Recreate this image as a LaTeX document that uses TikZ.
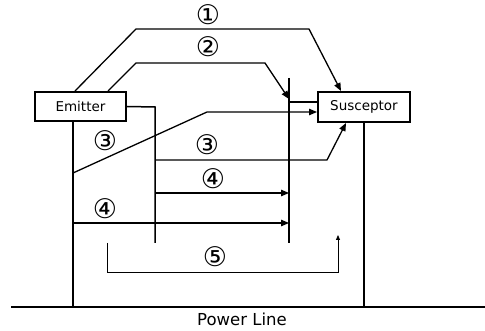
\documentclass[tikz,border=0pt]{standalone}
\usepackage{fontspec}
\setmainfont{DejaVu Sans}
\usetikzlibrary{positioning,arrows.meta,calc}

\begin{document}
\begin{tikzpicture}[x=1pt, y=-1pt,
  lbl/.style={font=\fontsize{27}{29}\selectfont, inner sep=0pt},
  boxv/.style={rectangle, draw=black, line width=2pt, fill=white, font=\fontsize{13.5}{16}\selectfont},
  wire/.style={draw=black, line width=1.5pt, line join=miter},
  flow/.style={draw=black, line width=1.3pt, -{Triangle[length=8pt,width=6.5pt]}},
  thinflow/.style={draw=black, line width=0.8pt, -{Triangle[length=5pt,width=4pt]}}
]
\useasboundingbox (0,0) rectangle (485,331);

\node[boxv, minimum width=91pt, minimum height=29pt] (emit) at (80.5,106.5) {Emitter};
\node[boxv, minimum width=92pt, minimum height=30pt] (susc) at (364,107) {Susceptor};
\coordinate (plL) at (11,307);
\coordinate (plR) at (485,307);
\coordinate (eg) at (73,307);
\coordinate (w1t) at (155,107);
\coordinate (w1b) at (155,243);
\coordinate (w2t) at (289,78);
\coordinate (w2b) at (289,243);
\coordinate (a1) at (73,173);
\coordinate (a2) at (155,160);
\coordinate (a3) at (155,193);
\coordinate (a4) at (73,223);
\coordinate (t2) at (289,99);
\coordinate (s2) at (289,102);
\coordinate (t3) at (289,193);
\coordinate (t4) at (289,223);
\draw[wire] (plL) -- (plR);
\draw[wire] (emit.south -| eg) -- (eg);
\draw[wire] (emit.east) -- (w1t) -- (w1b);
\draw[wire] (w2t) -- (w2b);
\draw[wire] (susc.south) -- (susc.south |- plR);
\draw[flow] ([xshift=-5.5pt]emit.north) -- (136,29) -- (309,29) -- ([xshift=-23pt]susc.north);
\draw[flow] ([xshift=27.5pt]emit.north) -- (136,63) -- (265,63) -- (t2);
\draw[wire, line width=1.3pt] (s2) -- ([yshift=5pt]susc.west);
\draw[flow] (a1) -- (207,112) -- ([yshift=-5pt]susc.west);
\draw[flow] (a2) -- (327,160) -- ([xshift=-18pt]susc.south);
\draw[flow] (a3) -- (t3);
\draw[flow] (a4) -- (t4);
\draw[thinflow] (107,243) -- (107,272) -- (338,272) -- (338,235);
\node[lbl] (n1) at (208,15) {①};
\node[lbl] (n2) at (208,47) {②};
\node[lbl] (n3a) at (105,141) {③};
\node[lbl] (n3b) at (207,145) {③};
\node[lbl] (n4a) at (213,179) {④};
\node[lbl] (n4b) at (105,209) {④};
\node[lbl] (n5) at (215,257) {⑤};
\node[font=\fontsize{16.5}{19}\selectfont, inner sep=0pt] (pl) at (242,319) {Power Line};

\end{tikzpicture}
\end{document}
